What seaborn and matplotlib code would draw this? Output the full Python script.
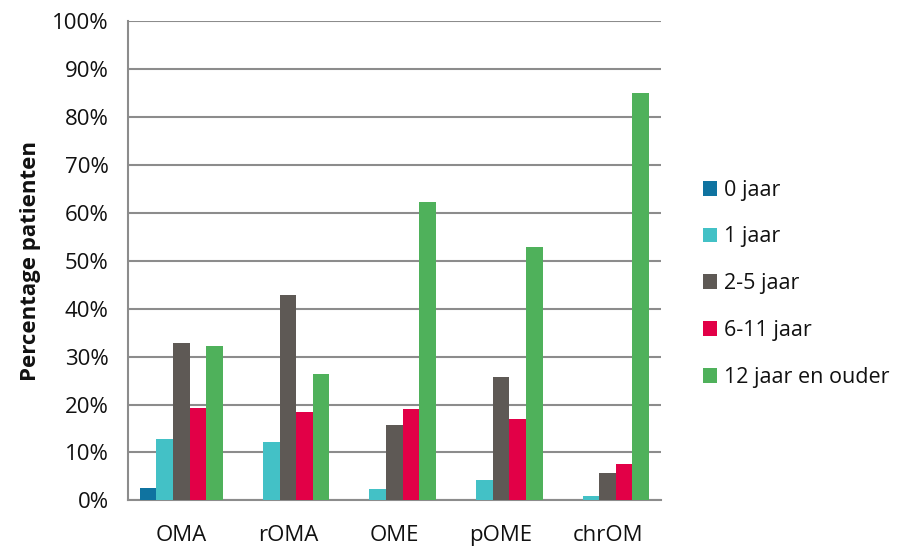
import matplotlib
matplotlib.use("Agg")
import matplotlib.pyplot as plt
import seaborn as sns
import pandas as pd
import numpy as np
from matplotlib.ticker import PercentFormatter, MultipleLocator, FixedLocator
from matplotlib.patches import Patch

categories = ["OMA", "rOMA", "OME", "pOME", "chrOM"]
age_groups = ["0 jaar", "1 jaar", "2-5 jaar", "6-11 jaar", "12 jaar en ouder"]
age_0 = [2.5, 0.0, 0.0, 0.0, 0.0]
age_1 = [12.9, 12.2, 2.4, 4.2, 1.0]
age_2_5 = [32.8, 42.9, 15.7, 25.7, 5.8]
age_6_11 = [19.2, 18.4, 19.1, 16.9, 7.6]
age_12_plus = [32.2, 26.3, 62.2, 52.9, 85.1]
colors = ["#0F73A0", "#43C1C6", "#5E5955", "#E20047", "#4FB15B"]

series = [age_0, age_1, age_2_5, age_6_11, age_12_plus]
df = pd.DataFrame(
    [(cat, grp, vals[i]) for grp, vals in zip(age_groups, series)
     for i, cat in enumerate(categories)],
    columns=["categorie", "leeftijd", "percentage"],
)

sns.set_style("white")
plt.rcParams["font.family"] = ["Open Sans", "DejaVu Sans"]
FS = 16

fig = plt.figure(figsize=(9.04, 5.49), dpi=100)
ax = fig.add_axes([0.1416, 0.0887, 0.731 - 0.1416, 0.9612 - 0.0887])

sns.barplot(data=df, x="categorie", y="percentage", hue="leeftijd",
            order=categories, hue_order=age_groups, palette=colors,
            width=0.78, gap=0, saturation=1, edgecolor="none",
            legend=False, ax=ax, zorder=3)

ax.set_xlim(-0.5, len(categories) - 0.5)
ax.set_ylim(0, 100)
ax.yaxis.set_major_locator(MultipleLocator(10))
ax.yaxis.set_major_formatter(PercentFormatter(decimals=0))
ax.grid(axis="y", color="#8C8C8C", linewidth=1.5, zorder=0)
ax.set_axisbelow(True)

for side in ["top", "right"]:
    ax.spines[side].set_visible(False)
for side in ["left", "bottom"]:
    ax.spines[side].set_color("#8C8C8C")
    ax.spines[side].set_linewidth(1.5)

ax.tick_params(axis="y", which="major", length=7, width=1.5, color="#8C8C8C",
               direction="out", labelsize=FS, pad=7, labelcolor="#111111")
ax.tick_params(axis="x", which="major", length=0, labelsize=FS, pad=18,
               labelcolor="#111111")
ax.xaxis.set_minor_locator(FixedLocator(np.arange(-0.5, len(categories), 1.0)))
ax.tick_params(axis="x", which="minor", length=7, width=1.5, color="#8C8C8C",
               direction="out")

ax.set_xlabel("")
ax.set_ylabel("Percentage patienten", fontsize=FS, fontweight="bold",
              labelpad=8, color="#111111")

handles = [Patch(facecolor=c, edgecolor="none") for c in colors]
fig.legend(handles, age_groups, loc="center left", bbox_to_anchor=(0.756, 0.483),
           frameon=False, fontsize=15.5, handlelength=0.68, handleheight=0.68,
           handletextpad=0.3, labelspacing=1.2, labelcolor="#111111")

fig.savefig("out.png", dpi=100)
